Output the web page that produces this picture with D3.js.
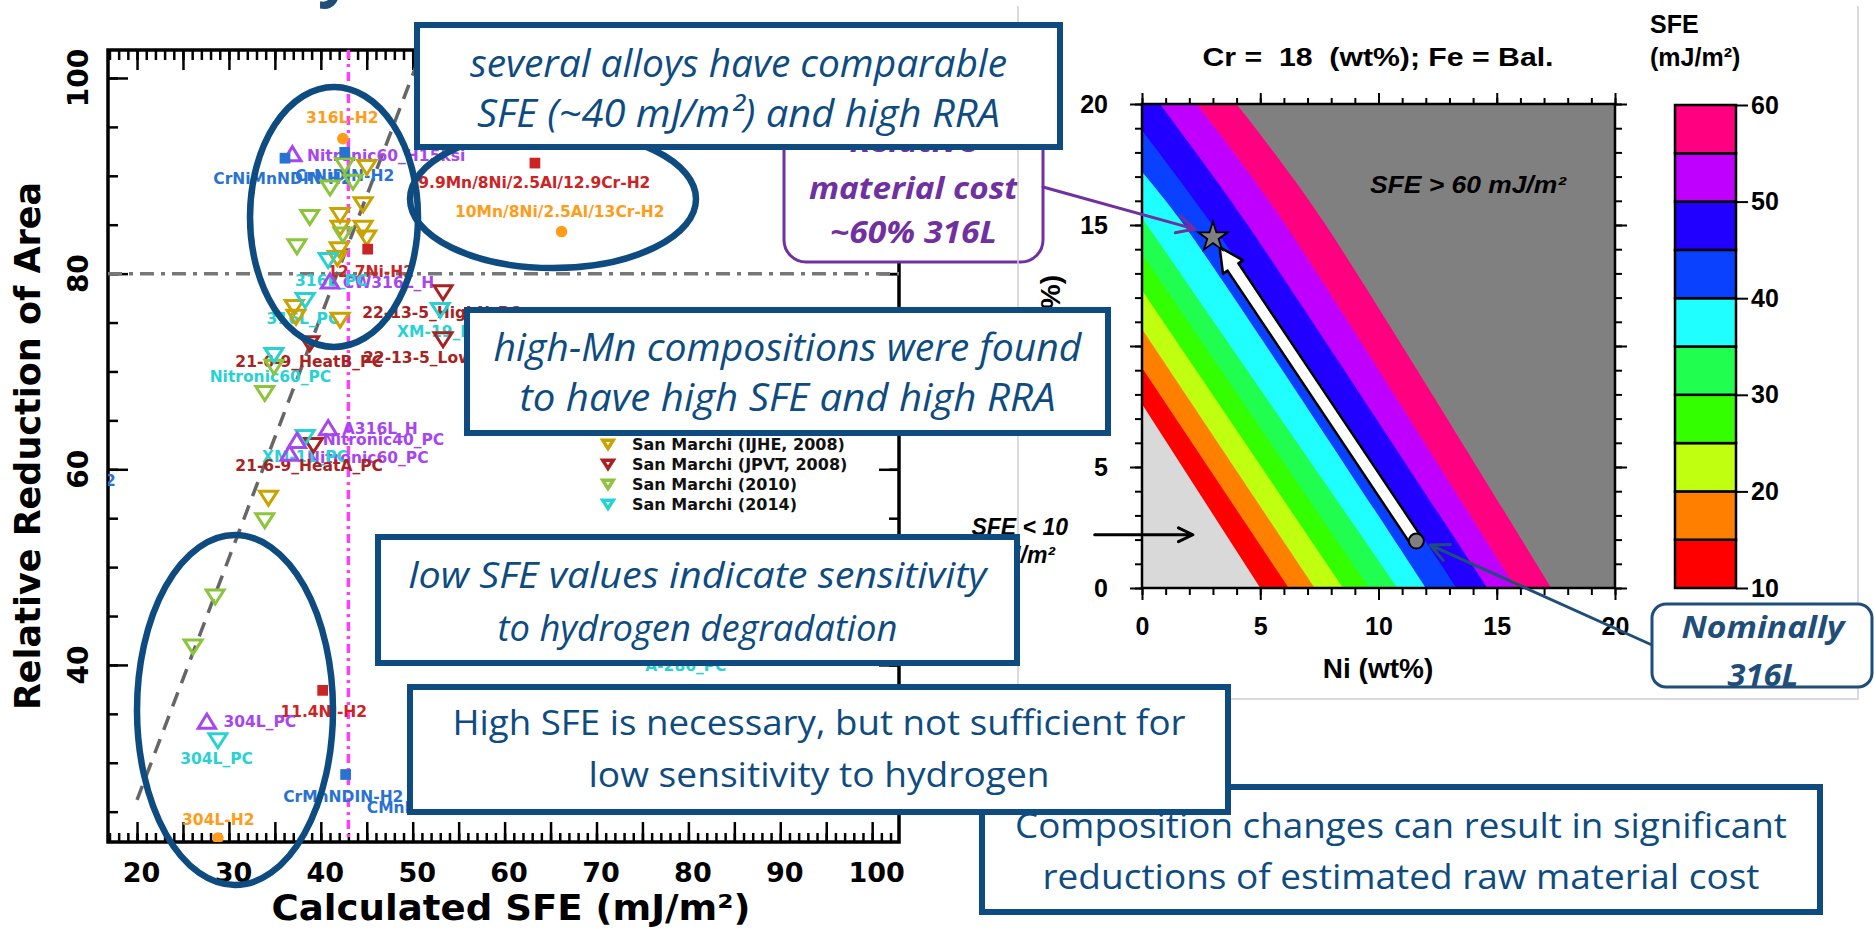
<!DOCTYPE html>
<html>
<head>
<meta charset="utf-8">
<script src="https://cdn.jsdelivr.net/npm/d3@7"></script>
<style>
  body { margin: 0; background: #fff; overflow: hidden; }
  svg { display: block; }
</style>
</head>
<body>
<script>
// ---------- left chart: calculated SFE vs relative reduction of area ----------
const sfeLabelTicks = [20, 30, 40, 50, 60, 70, 80, 90, 100];
const rraLabelTicks = [40, 60, 80, 100];

// [SFE, RRA]
const h2Circles = [[42.4, 93.8], [66.2, 84.3], [28.8, 22.3]];
const h2RedSquares = [[63.3, 91.3], [45.1, 82.5], [40.2, 37.4]];
const h2BlueSquares = [[36.1, 91.8], [42.6, 92.4], [42.7, 28.8]];
const purpleTriangles = [[36.9, 92.2], [41.0, 79.2], [40.8, 64.2], [37.4, 62.9], [36.6, 61.6], [27.6, 34.2]];
const ijhe2008 = [[45.0, 90.9], [44.6, 87.1], [42.1, 86.0], [42.1, 84.7], [44.6, 84.7], [45.0, 83.7],
                  [42.0, 82.5], [41.8, 81.6], [37.1, 76.6], [37.3, 75.6], [42.1, 75.3], [34.3, 57.1]];
const jpvt2008 = [[53.3, 78.1], [53.3, 73.3], [38.8, 72.9], [39.2, 62.5]];
const sm2010 = [[42.6, 91.1], [41.0, 88.8], [43.5, 89.4], [38.8, 85.8], [42.4, 84.0], [37.4, 82.8],
                [34.9, 70.5], [33.9, 67.8], [33.9, 54.8], [28.5, 47.0], [26.1, 41.9]];
const sm2014 = [[40.8, 81.4], [38.3, 77.3], [53.0, 76.3], [34.9, 71.7], [38.3, 63.3], [28.8, 32.3]];

// [text, SFE, RRA, colour key, anchor]
const pointLabels = [
  ["316L-H2", 38.4, 96.0, "orange"],
  ["10Mn/8Ni/2.5Al/13Cr-H2", 54.6, 86.4, "orange"],
  ["304L-H2", 24.9, 24.2, "orange"],
  ["9.9Mn/8Ni/2.5Al/12.9Cr-H2", 50.6, 89.3, "red"],
  ["12.7Ni-H2", 40.7, 80.2, "red"],
  ["11.4Ni-H2", 35.6, 35.2, "red"],
  ["CrNiMnNDIN-H2", 28.3, 89.7, "blue"],
  ["CrNiDIN-H2", 37.2, 90.0, "blue"],
  ["CrMnNDIN-H2", 35.9, 26.6, "blue"],
  ["CMnDIN-H2", 45.0, 25.4, "blue"],
  ["FeMnN-H2", 17.7, 58.9, "blue", "end"],
  ["Nitronic60_H15ksi", 38.5, 92.1, "purple"],
  ["CW316L_H", 42.4, 79.1, "purple"],
  ["A316L_H", 42.4, 64.2, "purple"],
  ["Nitronic40_PC", 40.2, 63.1, "purple"],
  ["Nitronic60_PC", 38.5, 61.2, "purple"],
  ["304L_PC", 29.4, 34.2, "purple"],
  ["316L_PC", 37.2, 79.3, "cyan"],
  ["316L_PC", 34.1, 75.4, "cyan"],
  ["XM-19_PC", 48.3, 74.1, "cyan"],
  ["Nitronic60_PC", 27.9, 69.5, "cyan"],
  ["XM-11_PC", 33.6, 61.3, "cyan"],
  ["304L_PC", 24.7, 30.4, "cyan"],
  ["A-286_PC", 75.3, 40.0, "cyan"],
  ["22-13-5_HighN_PC", 44.5, 76.0, "darkred"],
  ["22-13-5_LowN_PC", 44.6, 71.4, "darkred"],
  ["21-6-9_HeatB_PC", 30.7, 71.0, "darkred"],
  ["21-6-9_HeatA_PC", 30.7, 60.4, "darkred"]
];

const legendNames = ["San Marchi (IJHE, 2008)", "San Marchi (JPVT, 2008)", "San Marchi (2010)", "San Marchi (2014)"];

const rraThreshold = 80;
const sfeThreshold = 43.0;
const trendLine = [[20.0, 26.2], [51.0, 102.8]];

// ---------- right chart: SFE map, Ni vs Mn (wt%) ----------
const sfeLevels = [10, 15, 20, 25, 30, 35, 40, 45, 50, 55, 60];
// contour lines as [Ni, Mn] points
const levelLines = [
  [[5.0, 0], [0, 7.6]],
  [[6.2, 0], [0, 9.1]],
  [[7.3, 0], [0, 10.7]],
  [[8.5, 0], [0, 12.3]],
  [[9.6, 0], [0, 13.8]],
  [[10.8, 0], [0, 15.3]],
  [[12.0, 0], [1.7, 15.1], [0, 17.2]],
  [[13.3, 0], [2.9, 15.1], [0, 18.9]],
  [[14.6, 0], [4.4, 15.1], [2.2, 18.1], [0.76, 20]],
  [[15.8, 0], [6.0, 15.1], [3.8, 18.1], [2.3, 20]],
  [[17.3, 0], [7.7, 15.1], [5.5, 18.1], [4.0, 20]]
];
const niTicks = [0, 5, 10, 15, 20];
const mnTicks = [0, 5, 10, 15, 20];
const starPoint = [3.0, 14.5];      // ~60% 316L cost
const nominalPoint = [11.6, 1.94];  // nominal 316L
const lowArrow = [[-2.0, 2.2], [2.15, 2.2]];

// colours
const below = ["#d9d9d9", "#ff0000", "#ff8000", "#c0ff10", "#33ff00", "#20ff50",
               "#20ffff", "#0a40ff", "#2200ff", "#c000ff", "#ff0080"];
const aboveColor = "#808080";
const pal = {
  orange: "#ff9c1a", red: "#cc2424", blue: "#2a72d2", purple: "#a646f0",
  cyan: "#28d2d2", darkred: "#a82222", gold: "#c9a300", green: "#8cc43c"
};
const boxBlue = "#0d4b80";

const W = 1874, H = 937;
const svg = d3.select("body").append("svg").attr("width", W).attr("height", H);
svg.append("rect").attr("width", W).attr("height", H).attr("fill", "#fff");

// slide title remnant at the very top
svg.append("text").attr("x", 318).attr("y", -6)
  .attr("font-family", "'Open Sans', sans-serif").attr("font-weight", "bold")
  .attr("font-size", 60).attr("fill", "#1f4e79").text("y");

// ================= LEFT CHART =================
const x = d3.scaleLinear().domain([16.84, 102.92]).range([108, 899]);
const y = d3.scaleLinear().domain([21.9, 102.86]).range([842, 50]);
const [xL, xR] = x.range(), [yB, yT] = y.range();

const left = svg.append("g").attr("font-family", "'DejaVu Sans', sans-serif");
svg.append("clipPath").attr("id", "clipL").append("rect")
  .attr("x", xL).attr("y", yT).attr("width", xR - xL).attr("height", yB - yT);

function ticks(parent, axis, pos, vals, size, width) {
  const g = parent.append("g").attr("transform", pos)
    .call(axis.tickValues(vals).tickSize(size).tickFormat(""));
  g.select(".domain").remove();
  g.selectAll("line").attr("stroke", "#000").attr("stroke-width", width);
  return g;
}
const ones = d3.range(17, 103), fives = d3.range(20, 101, 5), rraFives = d3.range(25, 101, 5);
ticks(left, d3.axisBottom(x), `translate(0,${yB})`, ones, -9, 2.5);
ticks(left, d3.axisBottom(x), `translate(0,${yB})`, fives, -20, 2.5);
ticks(left, d3.axisTop(x), `translate(0,${yT})`, ones, -10, 2.5);
ticks(left, d3.axisTop(x), `translate(0,${yT})`, fives, -20, 2.5);
ticks(left, d3.axisLeft(y), `translate(${xL},0)`, rraFives, -10, 2.5);
ticks(left, d3.axisLeft(y), `translate(${xL},0)`, rraLabelTicks, -20, 2.5);
ticks(left, d3.axisRight(y), `translate(${xR},0)`, rraFives, -10, 2.5);
ticks(left, d3.axisRight(y), `translate(${xR},0)`, rraLabelTicks, -20, 2.5);

const xLab = left.append("g").attr("transform", `translate(0,${yB})`)
  .call(d3.axisBottom(x).tickValues(sfeLabelTicks).tickSize(0).tickPadding(21));
xLab.select(".domain").remove();
xLab.selectAll("text").attr("font-family", "'DejaVu Sans', sans-serif")
  .attr("font-size", 27).attr("font-weight", "bold").attr("fill", "#000").attr("dx", 4);

left.selectAll(".ylab").data(rraLabelTicks).join("text").attr("class", "ylab")
  .attr("transform", d => `translate(88,${y(d)}) rotate(-90)`)
  .attr("text-anchor", "middle").attr("font-size", 28).attr("font-weight", "bold").text(d => d);

left.append("rect").attr("x", xL).attr("y", yT).attr("width", xR - xL).attr("height", yB - yT)
  .attr("fill", "none").attr("stroke", "#000").attr("stroke-width", 3.5);

left.append("text").attr("x", 511).attr("y", 920).attr("text-anchor", "middle")
  .attr("font-size", 35).attr("font-weight", "bold")
  .attr("textLength", 479).attr("lengthAdjust", "spacingAndGlyphs")
  .text("Calculated SFE (mJ/m²)");
left.append("text").attr("transform", "translate(40,446) rotate(-90)").attr("text-anchor", "middle")
  .attr("font-size", 35).attr("font-weight", "bold").text("Relative Reduction of Area");

const plot = left.append("g").attr("clip-path", "url(#clipL)");

plot.append("line").attr("x1", xL).attr("x2", xR)
  .attr("y1", y(rraThreshold)).attr("y2", y(rraThreshold))
  .attr("stroke", "#777").attr("stroke-width", 3.5).attr("stroke-dasharray", "14,7,4,7");
plot.append("line").attr("x1", x(sfeThreshold)).attr("x2", x(sfeThreshold))
  .attr("y1", yT).attr("y2", yB)
  .attr("stroke", "#ff3cff").attr("stroke-width", 3.5).attr("stroke-dasharray", "9,5,3,5");
plot.append("path").datum(trendLine)
  .attr("d", d3.line().x(d => x(d[0])).y(d => y(d[1])))
  .attr("stroke", "#666").attr("stroke-width", 3.5).attr("stroke-dasharray", "15,10").attr("fill", "none");

// labels under markers
plot.selectAll(".plab").data(pointLabels).join("text").attr("class", "plab")
  .attr("x", d => x(d[1])).attr("y", d => y(d[2])).attr("dy", "0.36em")
  .attr("text-anchor", d => d[4] || "start")
  .attr("font-size", 15.5).attr("font-weight", "bold")
  .attr("fill", d => pal[d[3]]).text(d => d[0]);

const triDown = { draw(ctx, size) {
  const w = Math.sqrt(size);
  ctx.moveTo(-w / 2, -w * 0.36); ctx.lineTo(w / 2, -w * 0.36); ctx.lineTo(0, w * 0.42); ctx.closePath();
} };
const triUp = { draw(ctx, size) {
  const w = Math.sqrt(size);
  ctx.moveTo(-w / 2, w * 0.38); ctx.lineTo(w / 2, w * 0.38); ctx.lineTo(0, -w * 0.44); ctx.closePath();
} };

function markers(data, type, size, color, filled) {
  plot.append("g").selectAll("path").data(data).join("path")
    .attr("transform", d => `translate(${x(d[0])},${y(d[1])})`)
    .attr("d", d3.symbol().type(type).size(size))
    .attr("fill", filled ? color : "none")
    .attr("stroke", filled ? "none" : color).attr("stroke-width", 3);
}
markers(ijhe2008, triDown, 320, pal.gold, false);
markers(sm2010, triDown, 320, pal.green, false);
markers(jpvt2008, triDown, 320, pal.darkred, false);
markers(sm2014, triDown, 320, pal.cyan, false);
markers(purpleTriangles, triUp, 300, pal.purple, false);
markers(h2RedSquares, d3.symbolSquare, 115, pal.red, true);
markers(h2BlueSquares, d3.symbolSquare, 115, pal.blue, true);
markers(h2Circles, d3.symbolCircle, 105, pal.orange, true);

// legend (visible part)
const legendColors = [pal.gold, pal.darkred, pal.green, pal.cyan];
const leg = left.append("g").attr("transform", "translate(608,444)");
leg.selectAll("path").data(legendNames).join("path")
  .attr("transform", (d, i) => `translate(0,${i * 20})`)
  .attr("d", d3.symbol().type(triDown).size(110))
  .attr("fill", "none").attr("stroke", (d, i) => legendColors[i]).attr("stroke-width", 3.5);
leg.selectAll("text").data(legendNames).join("text")
  .attr("x", 24).attr("y", (d, i) => i * 20).attr("dy", "0.36em")
  .attr("font-size", 16).attr("font-weight", "bold").attr("fill", "#111").text(d => d);

// ellipses
const ellipses = [[334, 217, 84, 130], [553, 199, 143, 69], [235, 710, 98, 175]];
svg.append("g").selectAll("ellipse").data(ellipses).join("ellipse")
  .attr("cx", d => d[0]).attr("cy", d => d[1]).attr("rx", d => d[2]).attr("ry", d => d[3])
  .attr("fill", "none").attr("stroke", boxBlue).attr("stroke-width", 6.5);

// ================= RIGHT CHART =================
const xr = d3.scaleLinear().domain([0, 20]).range([1142, 1615]);
const yr = d3.scaleLinear().domain([0, 20]).range([588, 104]);
const right = svg.append("g").attr("font-family", "'Liberation Sans', Arial, sans-serif");
svg.append("clipPath").attr("id", "clipR").append("rect")
  .attr("x", xr(0)).attr("y", yr(20)).attr("width", xr(20) - xr(0)).attr("height", yr(0) - yr(20));

const bands = right.append("g").attr("clip-path", "url(#clipR)");
bands.append("rect").attr("x", xr(0)).attr("y", yr(20))
  .attr("width", xr(20) - xr(0)).attr("height", yr(0) - yr(20)).attr("fill", aboveColor);
const bandLine = d3.line().x(d => xr(d[0])).y(d => yr(d[1])).curve(d3.curveCatmullRom.alpha(0.5));
const order = d3.range(sfeLevels.length).reverse();
bands.selectAll("path").data(order).join("path")
  .attr("d", i => {
    const pts = levelLines[i];
    let p = bandLine(pts);
    if (pts[pts.length - 1][1] >= 20) p += `L${xr(0)},${yr(20)}`;
    return p + `L${xr(0)},${yr(0)}Z`;
  })
  .attr("fill", i => below[i]);

const nOnes = d3.range(0, 21);
ticks(right, d3.axisBottom(xr), `translate(0,${yr(0)})`, nOnes, 7, 2);
ticks(right, d3.axisBottom(xr), `translate(0,${yr(0)})`, niTicks, 12, 2);
ticks(right, d3.axisTop(xr), `translate(0,${yr(20)})`, nOnes, 6, 2);
ticks(right, d3.axisTop(xr), `translate(0,${yr(20)})`, niTicks, 11, 2);
ticks(right, d3.axisLeft(yr), `translate(${xr(0)},0)`, nOnes, 7, 2);
ticks(right, d3.axisLeft(yr), `translate(${xr(0)},0)`, mnTicks, 12, 2);
ticks(right, d3.axisRight(yr), `translate(${xr(20)},0)`, nOnes, 7, 2);
ticks(right, d3.axisRight(yr), `translate(${xr(20)},0)`, mnTicks, 12, 2);

function labels(axis, pos, pad, size) {
  const g = right.append("g").attr("transform", pos).call(axis.tickSize(0).tickPadding(pad));
  g.select(".domain").remove();
  g.selectAll("text").attr("font-family", "'Liberation Sans', Arial, sans-serif")
    .attr("font-size", size).attr("font-weight", "bold").attr("fill", "#000");
  return g;
}
labels(d3.axisBottom(xr).tickValues(niTicks), `translate(0,${yr(0)})`, 29, 25);
labels(d3.axisLeft(yr).tickValues(mnTicks), `translate(${xr(0)},0)`, 34, 25);

right.append("rect").attr("x", xr(0)).attr("y", yr(20))
  .attr("width", xr(20) - xr(0)).attr("height", yr(0) - yr(20))
  .attr("fill", "none").attr("stroke", "#000").attr("stroke-width", 2.5);

right.append("text").attr("x", 1378).attr("y", 66).attr("text-anchor", "middle")
  .style("white-space", "pre").attr("font-size", 26).attr("font-weight", "bold")
  .attr("textLength", 351).attr("lengthAdjust", "spacingAndGlyphs")
  .text("Cr =  18  (wt%); Fe = Bal.");
right.append("text").attr("x", 1378).attr("y", 678).attr("text-anchor", "middle")
  .attr("font-size", 28).attr("font-weight", "bold").text("Ni (wt%)");
right.append("text").attr("transform", "translate(1060,275) rotate(-90)").attr("text-anchor", "end")
  .attr("font-size", 28).attr("font-weight", "bold").text("Mn (wt%)");
right.append("text").attr("x", 1370).attr("y", 193)
  .attr("font-size", 23).attr("font-weight", "bold").attr("font-style", "italic")
  .attr("textLength", 196).attr("lengthAdjust", "spacingAndGlyphs").text("SFE > 60 mJ/m²");
right.append("text").attr("x", 1068).attr("y", 535).attr("text-anchor", "end")
  .attr("font-size", 23).attr("font-weight", "bold").attr("font-style", "italic").text("SFE < 10");
right.append("text").attr("x", 1055).attr("y", 563).attr("text-anchor", "end")
  .attr("font-size", 23).attr("font-weight", "bold").attr("font-style", "italic").text("mJ/m²");

// colour bar
const yc = d3.scaleLinear().domain([10, 60]).range([588, 105]);
const cbar = right.append("g");
cbar.selectAll("rect").data(d3.range(sfeLevels.length - 1)).join("rect")
  .attr("x", 1675).attr("width", 61)
  .attr("y", i => yc(sfeLevels[i + 1])).attr("height", i => yc(sfeLevels[i]) - yc(sfeLevels[i + 1]))
  .attr("fill", i => below[i + 1]).attr("stroke", "#000").attr("stroke-width", 2.5);
const cax = right.append("g").attr("transform", "translate(1736,0)")
  .call(d3.axisRight(yc).tickValues([10, 20, 30, 40, 50, 60]).tickSize(12).tickPadding(3));
cax.select(".domain").remove();
cax.selectAll("line").attr("stroke", "#000").attr("stroke-width", 2);
cax.selectAll("text").attr("font-family", "'Liberation Sans', Arial, sans-serif")
  .attr("font-size", 25).attr("font-weight", "bold").attr("fill", "#000");
right.append("text").attr("x", 1650).attr("y", 33).attr("font-size", 25).attr("font-weight", "bold").text("SFE");
right.append("text").attr("x", 1650).attr("y", 66).attr("font-size", 25).attr("font-weight", "bold").text("(mJ/m²)");

// white composition-change arrow, nominal point and star
const p0 = [xr(nominalPoint[0]), yr(nominalPoint[1])];
const p1 = [xr(starPoint[0]), yr(starPoint[1])];
{
  const dx = p1[0] - p0[0], dy = p1[1] - p0[1], L = Math.hypot(dx, dy);
  const ux = dx / L, uy = dy / L, nx = -uy, ny = ux;
  const tip = [p1[0] - ux * 12, p1[1] - uy * 12];
  const base = [tip[0] - ux * 24, tip[1] - uy * 24];
  const sw = 6.5, hw = 12;
  const pts = [
    [p0[0] + nx * sw, p0[1] + ny * sw], [base[0] + nx * sw, base[1] + ny * sw],
    [base[0] + nx * hw, base[1] + ny * hw], tip,
    [base[0] - nx * hw, base[1] - ny * hw], [base[0] - nx * sw, base[1] - ny * sw],
    [p0[0] - nx * sw, p0[1] - ny * sw]
  ];
  right.append("path").attr("d", d3.line()(pts) + "Z")
    .attr("fill", "#fff").attr("stroke", "#000").attr("stroke-width", 2.5).attr("stroke-linejoin", "round");
}
right.append("circle").attr("cx", p0[0]).attr("cy", p0[1]).attr("r", 7.5)
  .attr("fill", "#808080").attr("stroke", "#000").attr("stroke-width", 2);
right.append("path").attr("transform", `translate(${p1[0]},${p1[1]})`)
  .attr("d", d3.symbol().type(d3.symbolStar).size(270))
  .attr("fill", "#808080").attr("stroke", "#000").attr("stroke-width", 1.8);

function arrow(g, a, b, color, width, barb) {
  const ang = Math.atan2(b[1] - a[1], b[0] - a[0]);
  const h1 = [b[0] - barb * Math.cos(ang - 0.45), b[1] - barb * Math.sin(ang - 0.45)];
  const h2 = [b[0] - barb * Math.cos(ang + 0.45), b[1] - barb * Math.sin(ang + 0.45)];
  g.append("path").attr("d", `M${a}L${b}M${h1}L${b}L${h2}`)
    .attr("fill", "none").attr("stroke", color).attr("stroke-width", width)
    .attr("stroke-linecap", "round").attr("stroke-linejoin", "round");
}
arrow(right, [xr(lowArrow[0][0]), yr(lowArrow[0][1])], [xr(lowArrow[1][0]), yr(lowArrow[1][1])], "#000", 3, 16);

// ================= ANNOTATION BOXES =================
const notes = svg.append("g");

// purple cost callout (partly behind the first box)
notes.append("rect").attr("x", 784).attr("y", 95).attr("width", 259).attr("height", 167).attr("rx", 22)
  .attr("fill", "#fff").attr("stroke", "#7030a0").attr("stroke-width", 3);
notes.selectAll(".pc").data([["Relative", 152, 128], ["material cost", 199, 209], ["~60% 316L", 243, 167]])
  .join("text").attr("class", "pc")
  .attr("x", 913.5).attr("y", d => d[1]).attr("text-anchor", "middle")
  .attr("textLength", d => d[2]).attr("lengthAdjust", "spacingAndGlyphs")
  .attr("font-family", "'Open Sans', sans-serif").attr("font-size", 31)
  .attr("font-weight", "bold").attr("font-style", "italic").attr("fill", "#7030a0").text(d => d[0]);

// light frame of the right figure
notes.append("path").attr("d", "M1018,6V699H1858V6").attr("fill", "none")
  .attr("stroke", "#cfcfcf").attr("stroke-width", 1.5);

arrow(notes, [1043, 187], [p1[0] - 18, p1[1] - 8], "#7030a0", 3, 20);

function noteBox(r, lines, size, style) {
  notes.append("rect").attr("x", r[0]).attr("y", r[1]).attr("width", r[2]).attr("height", r[3])
    .attr("fill", "#fff").attr("stroke", boxBlue).attr("stroke-width", 6);
  notes.selectAll(null).data(lines).join("text")
    .attr("x", r[0] + r[2] / 2).attr("y", d => d[1]).attr("text-anchor", "middle")
    .attr("textLength", d => d[2]).attr("lengthAdjust", "spacingAndGlyphs")
    .attr("font-family", "'Open Sans', sans-serif").attr("font-size", size)
    .attr("font-style", style).attr("fill", boxBlue).text(d => d[0]);
}
noteBox([417, 25, 643, 122], [["several alloys have comparable", 77, 537], ["SFE (~40 mJ/m²) and high RRA", 127, 523]], 38, "italic");
noteBox([467, 310, 641, 123], [["high-Mn compositions were found", 361, 588], ["to have high SFE and high RRA", 411, 536]], 38, "italic");
noteBox([378, 537, 639, 126], [["low SFE values indicate sensitivity", 588, 578], ["to hydrogen degradation", 641, 400]], 36, "italic");
noteBox([982, 787, 838, 125], [["Composition changes can result in significant", 838, 772], ["reductions of estimated raw material cost", 889, 717]], 34, "normal");
noteBox([410, 687, 818, 125], [["High SFE is necessary, but not sufficient for", 735, 733], ["low sensitivity to hydrogen", 787, 461]], 35, "normal");

// nominal 316L callout
arrow(notes, [1652, 645], [p0[0] + 14, p0[1] + 4], "#1f4e79", 3, 20);
notes.append("rect").attr("x", 1652).attr("y", 604).attr("width", 220).attr("height", 83).attr("rx", 14)
  .attr("fill", "#fff").attr("stroke", "#1f4e79").attr("stroke-width", 3);
notes.selectAll(".nc").data([["Nominally", 638, 163], ["316L", 686, 71]]).join("text").attr("class", "nc")
  .attr("x", 1763).attr("y", d => d[1]).attr("text-anchor", "middle")
  .attr("textLength", d => d[2]).attr("lengthAdjust", "spacingAndGlyphs")
  .attr("font-family", "'Open Sans', sans-serif").attr("font-size", 30)
  .attr("font-weight", "bold").attr("font-style", "italic").attr("fill", "#1f4e79").text(d => d[0]);
</script>
</body>
</html>
